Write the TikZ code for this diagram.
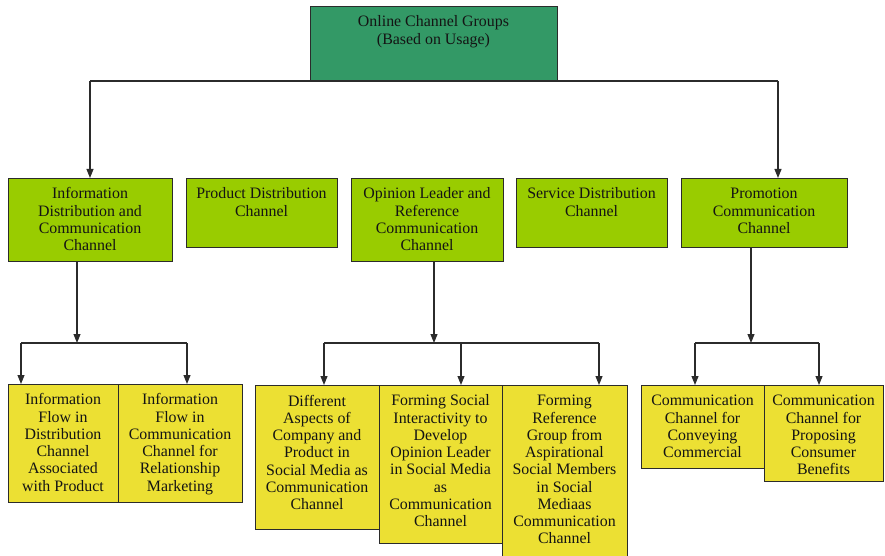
\documentclass[tikz,border=0pt]{standalone}
\usepackage{fontspec}
\setmainfont{Liberation Serif}
\usetikzlibrary{arrows.meta}

\definecolor{topfill}{HTML}{339966}
\definecolor{midfill}{HTML}{99CC00}
\definecolor{lowfill}{HTML}{ECE033}
\definecolor{edgecol}{HTML}{2B2B2B}
\definecolor{inkcol}{HTML}{141414}

\tikzset{
  box/.style={draw=edgecol, line width=0.9pt, anchor=north west,
    inner sep=0pt, outer sep=0pt},
  topbox/.style={box, fill=topfill},
  midbox/.style={box, fill=midfill},
  lowbox/.style={box, fill=lowfill},
  label/.style={anchor=north, inner sep=0pt, yshift=-9.6pt, align=center,
    text=inkcol, font=\fontsize{15.9}{17.25}\selectfont},
  conn/.style={draw=edgecol, line width=1.1pt},
  arr/.style={conn, -{Triangle[length=9pt,width=7pt]}, shorten >=0pt},
}

% first line of every label gets the same height
\newcommand{\firstline}{\rule{0pt}{11pt}}

\begin{document}
\begin{tikzpicture}[x=1pt, y=-1pt]
\useasboundingbox (0,0) rectangle (885,556);

% ---- boxes ----
\node[topbox, minimum width=247pt, minimum height=74.5pt] (top) at (310,6) {};

\node[midbox, minimum width=164pt, minimum height=83pt] (A) at (8,178) {};
\node[midbox, minimum width=151pt, minimum height=69pt] (B) at (186,178) {};
\node[midbox, minimum width=152pt, minimum height=83pt] (C) at (351,178) {};
\node[midbox, minimum width=151pt, minimum height=69pt] (D) at (516,178) {};
\node[midbox, minimum width=166pt, minimum height=69pt] (E) at (681,178) {};

\node[lowbox, minimum width=110pt, minimum height=118pt] (L1) at (8,384) {};
\node[lowbox, minimum width=124pt, minimum height=118pt] (L2) at (118,384) {};

\node[lowbox, minimum width=124pt, minimum height=144pt] (M1) at (255,385) {};
\node[lowbox, minimum width=123pt, minimum height=158pt] (M2) at (379,385) {};
\node[lowbox, minimum width=125pt, minimum height=185pt] (M3) at (502,385) {};

\node[lowbox, minimum width=123pt, minimum height=83pt] (R1) at (641,385) {};
\node[lowbox, minimum width=119pt, minimum height=96pt] (R2) at (764,385) {};

% ---- labels ----
\node[label] (ttop) at (top.north) {\firstline Online Channel Groups\\(Based on Usage)};

\node[label] (tA) at (A.north) {\firstline Information\\Distribution and\\Communication\\Channel};
\node[label] (tB) at (B.north) {\firstline Product Distribution\\Channel};
\node[label] (tC) at (C.north) {\firstline Opinion Leader and\\Reference\\Communication\\Channel};
\node[label] (tD) at (D.north) {\firstline Service Distribution\\Channel};
\node[label] (tE) at (E.north) {\firstline Promotion\\Communication\\Channel};

\node[label] (tL1) at (L1.north) {\firstline Information\\Flow in\\Distribution\\Channel\\Associated\\with Product};
\node[label] (tL2) at (L2.north) {\firstline Information\\Flow in\\Communication\\Channel for\\Relationship\\Marketing};

\node[label] (tM1) at (M1.north) {\firstline Different\\Aspects of\\Company and\\Product in\\Social Media as\\Communication\\Channel};
\node[label] (tM2) at (M2.north) {\firstline Forming Social\\Interactivity to\\Develop\\Opinion Leader\\in Social Media\\as\\Communication\\Channel};
\node[label] (tM3) at (M3.north) {\firstline Forming\\Reference\\Group from\\Aspirational\\Social Members\\in Social\\Mediaas\\Communication\\Channel};

\node[label] (tR1) at (R1.north) {\firstline Communication\\Channel for\\Conveying\\Commercial};
\node[label] (tR2) at (R2.north) {\firstline Communication\\Channel for\\Proposing\\Consumer\\Benefits};

% ---- junction points ----
\coordinate (jA) at (90,81);
\coordinate (jE) at (778,81);

\coordinate (ja) at (77,343);
\coordinate (ja1) at (21,343);
\coordinate (ja2) at (187,343);

\coordinate (jc) at (434,343);
\coordinate (jc1) at (324,343);
\coordinate (jc2) at (461,343);
\coordinate (jc3) at (599,343);

\coordinate (je) at (751,343);
\coordinate (je1) at (695,343);
\coordinate (je2) at (819,343);

% ---- connectors: top level ----
\draw[conn] (jA) -- (jE);
\draw[arr] (jA) -- (jA |- A.north);
\draw[arr] (jE) -- (jE |- E.north);

% ---- connectors: information distribution group ----
\draw[arr] (ja |- A.south) -- (ja);
\draw[conn] (ja1) -- (ja2);
\draw[arr] (ja1) -- (ja1 |- L1.north);
\draw[arr] (ja2) -- (ja2 |- L2.north);

% ---- connectors: opinion leader group ----
\draw[arr] (jc |- C.south) -- (jc);
\draw[conn] (jc1) -- (jc3);
\draw[arr] (jc1) -- (jc1 |- M1.north);
\draw[arr] (jc2) -- (jc2 |- M2.north);
\draw[arr] (jc3) -- (jc3 |- M3.north);

% ---- connectors: promotion group ----
\draw[arr] (je |- E.south) -- (je);
\draw[conn] (je1) -- (je2);
\draw[arr] (je1) -- (je1 |- R1.north);
\draw[arr] (je2) -- (je2 |- R2.north);

\end{tikzpicture}
\end{document}
